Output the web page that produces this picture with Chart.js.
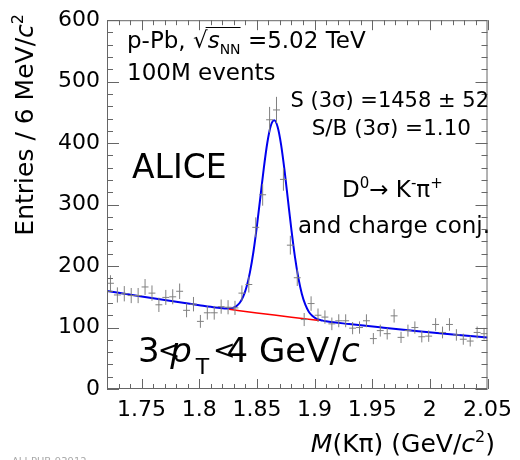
<!DOCTYPE html>
<html>
<head>
<meta charset="utf-8">
<script src="https://cdn.jsdelivr.net/npm/chart.js@4.4.1/dist/chart.umd.min.js"></script>
<style>
  html, body { margin: 0; padding: 0; background: #fff; }
  #wrap { width: 520px; height: 460px; }
</style>
</head>
<body>
<div id="wrap"><canvas id="myChart" width="520" height="460"></canvas></div>
<script>
// D0 -> K pi invariant mass, 6 MeV bins, 1.72 - 2.05 GeV/c2
let binCenters = [
    1.723, 1.729, 1.735, 1.741, 1.747, 1.753, 1.759, 1.765, 1.771, 1.777,
    1.783, 1.789, 1.795, 1.801, 1.807, 1.813, 1.819, 1.825, 1.831, 1.837,
    1.843, 1.849, 1.855, 1.861, 1.867, 1.873, 1.879, 1.885, 1.891, 1.897,
    1.903, 1.909, 1.915, 1.921, 1.927, 1.933, 1.939, 1.945, 1.951, 1.957,
    1.963, 1.969, 1.975, 1.981, 1.987, 1.993, 1.999, 2.005, 2.011, 2.017,
    2.023, 2.029, 2.035, 2.041, 2.047
];
let counts = [
    172, 153, 155, 152, 152, 166, 156, 137, 149, 150,
    159, 128, 138, 110, 124, 124, 134, 133, 132, 156,
    170, 263, 316, 438, 454, 341, 234, 181, 113, 139,
    120, 117, 106, 111, 111, 99, 100, 111, 82, 95,
    90, 119, 84, 95, 100, 85, 86, 105, 92, 105,
    88, 81, 78, 92, 90
];
let binHalfWidth = 0.003;

// total fit (signal + background)
let fitMass = [
    1.72, 1.75, 1.78, 1.80, 1.81, 1.82, 1.823, 1.826, 1.829, 1.832,
    1.835, 1.838, 1.841, 1.844, 1.847, 1.85, 1.853, 1.856, 1.859, 1.862,
    1.865, 1.868, 1.871, 1.874, 1.877, 1.88, 1.883, 1.886, 1.889, 1.892,
    1.895, 1.898, 1.901, 1.904, 1.907, 1.91, 1.93, 1.96, 1.99, 2.02, 2.05
];
let fitTotal = [
    159.5, 150.4, 141.8, 136.4, 133.7, 131.4, 131.0, 131.0, 131.9, 134.5,
    139.9, 149.8, 166.0, 190.2, 223.3, 265.1, 311.9, 359.4, 400.2, 427.8,
    437.2, 426.3, 397.3, 355.2, 306.3, 258.1, 214.9, 180.3, 154.7, 137.1,
    125.8, 119.1, 115.0, 112.6, 111.3, 110.2, 105.7, 99.7, 94.0, 88.6, 83.6
];
// background only, under the peak
let bkgMass = [1.826, 1.835, 1.85, 1.865, 1.88, 1.895, 1.904];
let bkgValues = [129.7, 127.4, 123.7, 120.2, 116.7, 113.3, 111.3];

let yTickLabels = [0, 100, 200, 300, 400, 500, 600];

const FONT = 'DejaVu Sans';

let vBars = [];
let hBars = [];
binCenters.forEach((c, i) => {
    let n = counts[i];
    let e = Math.sqrt(n);
    vBars.push({x: c, y: n - e}, {x: c, y: n + e}, {x: c, y: null});
    hBars.push({x: c - binHalfWidth, y: n}, {x: c + binHalfWidth, y: n}, {x: c, y: null});
});

let fitPoints = fitMass.map((m, i) => ({x: m, y: fitTotal[i]}));
let bkgPoints = bkgMass.map((m, i) => ({x: m, y: bkgValues[i]}));

// draws a list of [text, size, style, dy, kern] pieces on one baseline
function drawRich(ctx, x, y, parts, align) {
    let widths = parts.map(p => {
        ctx.font = `${p[2] || ''} ${p[1]}px "${FONT}"`;
        return ctx.measureText(p[0]).width + (p[4] || 0);
    });
    let total = widths.reduce((a, b) => a + b, 0);
    let cx = x;
    if (align === 'right') cx = x - total;
    if (align === 'center') cx = x - total / 2;
    let xs = [];
    parts.forEach((p, i) => {
        ctx.font = `${p[2] || ''} ${p[1]}px "${FONT}"`;
        ctx.fillText(p[0], cx, y + (p[3] || 0));
        xs.push(cx);
        cx += widths[i];
    });
    return {xs: xs, widths: widths};
}

let framePlugin = {
    id: 'framePlugin',
    afterDraw(chart) {
        let ctx = chart.ctx;
        let area = chart.chartArea;
        let xs = chart.scales.x;
        let ys = chart.scales.y;
        ctx.save();
        ctx.strokeStyle = '#666';
        ctx.lineWidth = 1;
        ctx.strokeRect(area.left + 0.5, area.top + 0.5, area.right - area.left - 1, area.bottom - area.top - 1);
        ctx.beginPath();
        xs.ticks.forEach(t => {
            let px = Math.round(xs.getPixelForValue(t.value)) + 0.5;
            let major = Math.abs(t.value * 20 - Math.round(t.value * 20)) < 1e-6;
            let len = major ? 10 : 5;
            ctx.moveTo(px, area.bottom);
            ctx.lineTo(px, area.bottom - len);
            ctx.moveTo(px, area.top);
            ctx.lineTo(px, area.top + len);
        });
        ys.ticks.forEach(t => {
            let py = Math.round(ys.getPixelForValue(t.value)) + 0.5;
            let len = yTickLabels.includes(t.value) ? 12 : 6;
            ctx.moveTo(area.left, py);
            ctx.lineTo(area.left + len, py);
            ctx.moveTo(area.right, py);
            ctx.lineTo(area.right - len, py);
        });
        ctx.stroke();

        ctx.fillStyle = '#000';
        ctx.textBaseline = 'alphabetic';

        // p-Pb, sqrt(s_NN) = 5.02 TeV
        let r = drawRich(ctx, 127, 48, [
            ['p-Pb, ', 23], ['\u221A', 23], ['s', 23, 'italic'], ['NN', 14, '', 6], [' =5.02 TeV', 23]
        ], 'left');
        ctx.beginPath();
        ctx.lineWidth = 1.2;
        ctx.strokeStyle = '#000';
        let ovY = 48 - 20.5;
        ctx.moveTo(r.xs[1] + r.widths[1] - 2, ovY);
        ctx.lineTo(r.xs[3] + r.widths[3], ovY);
        ctx.stroke();

        drawRich(ctx, 127, 80, [['100M events', 23]], 'left');
        drawRich(ctx, 489, 107, [['S (3\u03C3) =1458 \u00B1 52', 21]], 'right');
        drawRich(ctx, 471, 135, [['S/B (3\u03C3) =1.10', 21.5]], 'right');
        drawRich(ctx, 132, 178, [['ALICE', 33]], 'left');
        drawRich(ctx, 342, 197, [
            ['D', 23], ['0', 15, '', -9], ['\u2192 K', 23], ['-', 15, '', -9], ['\u03C0', 23], ['+', 15, '', -9]
        ], 'left');
        drawRich(ctx, 490, 233, [['and charge conj.', 23]], 'right');
        drawRich(ctx, 138, 362, [
            ['3', 34, '', 0, -2], ['<', 27, '', -3, -10], ['p', 34, 'italic', 0, 4], ['T', 22, '', 12, 3.6],
            ['<', 27, '', -3, -9], ['4 GeV/', 34], ['c', 34, 'italic']
        ], 'left');

        // axis titles
        drawRich(ctx, 495, 452, [
            ['M', 25, 'italic'], ['(K\u03C0) (GeV/', 25], ['c', 25, 'italic'], ['2', 16, '', -10], [')', 25]
        ], 'right');
        ctx.save();
        ctx.translate(33, 14);
        ctx.rotate(-Math.PI / 2);
        drawRich(ctx, 0, 0, [
            ['Entries / 6 MeV/', 25], ['c', 25, 'italic'], ['2', 16, '', -10]
        ], 'right');
        ctx.restore();

        ctx.fillStyle = '#aaa';
        drawRich(ctx, 12, 465, [['ALI-PUB-93912', 10]], 'left');
        ctx.restore();
    }
};

let ctx = document.getElementById('myChart').getContext('2d');

let myChart = new Chart(ctx, {
    type: 'scatter',
    data: {
        datasets: [
            {
                data: vBars,
                showLine: true,
                spanGaps: false,
                borderColor: '#808080',
                borderWidth: 1,
                pointRadius: 0
            },
            {
                data: hBars,
                showLine: true,
                spanGaps: false,
                borderColor: '#808080',
                borderWidth: 1,
                pointRadius: 0
            },
            {
                data: bkgPoints,
                showLine: true,
                borderColor: '#ff0000',
                borderWidth: 1.5,
                pointRadius: 0
            },
            {
                data: fitPoints,
                showLine: true,
                borderColor: '#0000ee',
                borderWidth: 2,
                pointRadius: 0,
                cubicInterpolationMode: 'monotone'
            }
        ]
    },
    options: {
        responsive: false,
        animation: false,
        layout: { padding: { top: 14, right: 26, left: 0, bottom: 0 } },
        plugins: { legend: { display: false }, tooltip: { enabled: false } },
        scales: {
            x: {
                type: 'linear',
                min: 1.72,
                max: 2.05,
                grid: { display: false, drawTicks: false },
                border: { display: false },
                afterFit: scale => { scale.height = 71; },
                ticks: {
                    stepSize: 0.01,
                    autoSkip: false,
                    maxRotation: 0,
                    padding: 8,
                    color: '#000',
                    font: { family: FONT, size: 22 },
                    callback: v => Math.abs(v * 20 - Math.round(v * 20)) < 1e-6 ? String(Math.round(v * 100) / 100) : ''
                }
            },
            y: {
                min: 0,
                max: 600,
                grid: { display: false, drawTicks: false },
                border: { display: false },
                afterFit: scale => { scale.width = 107; },
                ticks: {
                    stepSize: 20,
                    autoSkip: false,
                    padding: 7,
                    color: '#000',
                    font: { family: FONT, size: 22 },
                    callback: v => yTickLabels.includes(v) ? String(v) : ''
                }
            }
        }
    },
    plugins: [framePlugin]
});
</script>
</body>
</html>
